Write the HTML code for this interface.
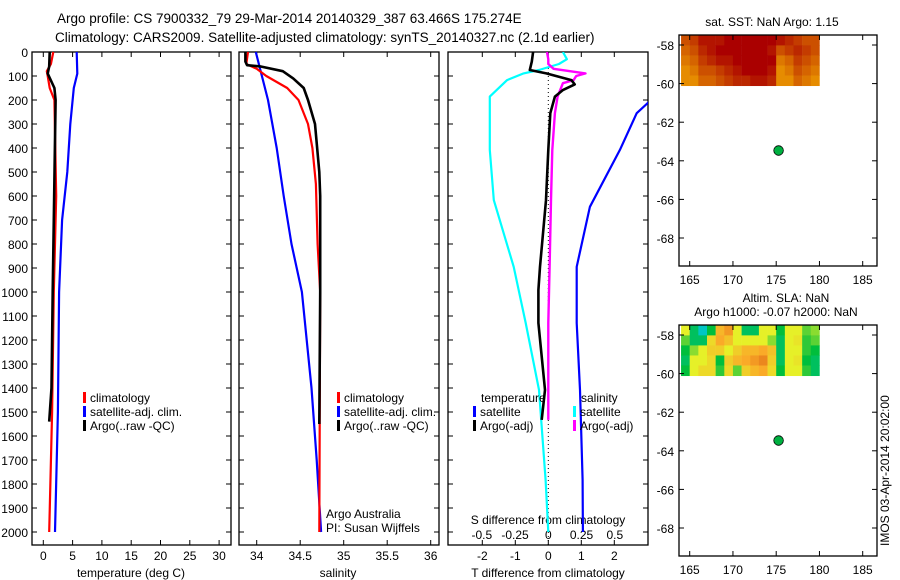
<!DOCTYPE html>
<html><head><meta charset="utf-8"><style>
html,body{margin:0;padding:0;background:#fff;}
svg{display:block;font-family:"Liberation Sans",sans-serif;}
</style></head><body>
<svg id="fig" width="900" height="580" viewBox="0 0 900 580" xmlns="http://www.w3.org/2000/svg">
<text x="57" y="23" font-size="13.5">Argo profile: CS 7900332_79 29-Mar-2014 20140329_387 63.466S 175.274E</text>
<text x="55" y="42" font-size="13.5">Climatology: CARS2009. Satellite-adjusted climatology: synTS_20140327.nc (2.1d earlier)</text>
<text x="772" y="26" font-size="12" text-anchor="middle">sat. SST: NaN Argo: 1.15</text>
<text x="786" y="302" font-size="12" text-anchor="middle">Altim. SLA: NaN</text>
<text x="776" y="316" font-size="12" text-anchor="middle">Argo h1000: -0.07 h2000: NaN</text>
<text transform="translate(889,546) rotate(-90)" font-size="12">IMOS 03-Apr-2014 20:02:00</text>
<g id="plots"></g>
</svg>
<script>
// ---- data ----
const depthTicks=[0,100,200,300,400,500,600,700,800,900,1000,1100,1200,1300,1400,1500,1600,1700,1800,1900,2000];
const tempTicks=[0,5,10,15,20,25,30];
const salTicks=[34,34.5,35,35.5,36];
const tdiffTicks=[-2,-1,0,1,2];
const sdiffTicks=[-0.5,-0.25,0,0.25,0.5];
const sdiffLabels=["-0.5","-0.25","0","0.25","0.5"];
const latTicks=[-58,-60,-62,-64,-66,-68];
const lonTicks=[165,170,175,180,185];

const tClimDepth=[0,50,80,100,150,200,600,1000,1500,2000];
const tClimVal=[1.7,1.3,0.6,0.75,1.1,1.9,2.2,1.8,1.5,1.0];
const tArgoDepth=[0,60,90,150,200,700,1000,1400,1540];
const tArgoVal=[1.1,1.0,0.75,1.9,2.1,1.8,1.6,1.4,1.0];
const tSatDepth=[0,90,150,300,500,700,1000,1500,2000];
const tSatVal=[5.7,5.8,5.2,4.6,4.1,3.2,2.7,2.5,2.0];

const sClimDepth=[0,50,70,100,150,200,300,400,550,800,1000,2000];
const sClimVal=[33.9,33.88,34.0,34.11,34.35,34.48,34.59,34.64,34.68,34.7,34.73,34.72];
const sArgoDepth=[0,40,55,60,80,110,150,200,300,500,600,1000,1550];
const sArgoVal=[33.87,33.87,33.89,34.04,34.3,34.42,34.54,34.59,34.67,34.72,34.73,34.73,34.72];
const sSatDepth=[0,100,200,400,600,800,1000,1400,1700,2000];
const sSatVal=[33.99,34.06,34.13,34.23,34.31,34.4,34.52,34.63,34.69,34.74];

const dtArgoDepth=[0,40,75,89,117,135,158,186,255,408,617,895,992,1129,1408,1533];
const dtArgoVal=[-0.46,-0.5,-0.56,-0.06,0.7,0.8,0.45,0.2,0.06,0,-0.07,-0.25,-0.3,-0.3,-0.1,-0.2];
const dtSatDepth=[150,214,255,408,645,895,1129,1408,1783,2000];
const dtSatVal=[3.5,3.0,2.68,2.17,1.26,0.86,0.86,0.96,1.04,1.05];
const dsArgoDepth=[0,30,50,70,89,100,117,130,186,255,408,617,895,1129,1533];
const dsArgoVal=[-0.01,0,0,0.04,0.28,0.21,0.19,0.11,0.07,0.05,0.03,0.02,0.01,0,0];
const dsSatDepth=[0,30,50,75,90,117,186,255,408,617,895,1129,1408,1783,2000];
const dsSatVal=[0.11,0.14,0.08,-0.07,-0.19,-0.31,-0.44,-0.44,-0.44,-0.41,-0.26,-0.17,-0.07,-0.02,0.0];

const sstGrid=[
[.6,.7,.9,.9,.9,1,1,1,1,1,1,.9,.8,.7,.6,.6],
[.5,.6,.8,.9,1,1,1,1,1,1,.9,.6,.7,.8,.7,.6],
[.4,.5,.7,.8,.9,.9,1,1,1,1,1,.4,.5,.7,.6,.5],
[.3,.4,.6,.6,.7,.8,.9,1,1,1,.9,.3,.4,.6,.5,.4],
[.3,.3,.5,.5,.6,.7,.8,.8,.9,.9,.8,.3,.3,.5,.4,.3]];
const slaGrid=[
[0,-.6,-.9,-.5,.5,.7,0,-.6,-.6,0,0,-.5,0,0,-.3,-.2],
[-.3,-.6,-.6,.2,.6,.4,0,0,0,0,-.2,-.6,0,.1,-.4,-.3],
[-.5,-.2,0,.3,.3,0,.3,.5,.5,.6,.4,-.6,0,0,-.4,-.5],
[-.6,0,0,.2,-.5,.3,.5,.6,.7,.8,.3,-.6,0,.1,-.5,-.6],
[-.5,0,.2,.2,-.4,.2,-.3,.3,.5,.6,.2,-.5,0,0,-.4,-.6]];
const gridLon0=164, gridLat0=-57.5, gridDLat=0.52;
const argoLon=175.274, argoLat=-63.466;

// ---- helpers ----
const NS="http://www.w3.org/2000/svg";
const root=document.getElementById('plots');
function el(tag,attrs,parent){const e=document.createElementNS(NS,tag);for(const k in attrs)e.setAttribute(k,attrs[k]);(parent||root).appendChild(e);return e;}
function txt(x,y,s,anchor,size,parent){const t=el('text',{x:x,y:y,'font-size':size||12,'text-anchor':anchor||'start'},parent);t.textContent=s;return t;}
const yD=d=>52+d*0.24;
const PT=52,PB=545;

function panel(x0,x1,name){
  const g=el('g',{});
  
  
  const r=el('rect',{x:x0,y:PT,width:x1-x0,height:PB-PT,fill:'none',stroke:'#000','stroke-width':1.3},g);
  
  
  depthTicks.forEach(d=>{
    el('line',{x1:x0,x2:x0+5,y1:yD(d),y2:yD(d),stroke:'#000'},g);
    el('line',{x1:x1,x2:x1-5,y1:yD(d),y2:yD(d),stroke:'#000'},g);
  });
  return g;
}
function xTicks(g,vals,fx,labels,ly){
  vals.forEach((v,i)=>{
    el('line',{x1:fx(v),x2:fx(v),y1:PB,y2:PB-5,stroke:'#000'},g);
    el('line',{x1:fx(v),x2:fx(v),y1:PT,y2:PT+5,stroke:'#000'},g);
    if(labels){const t=txt(fx(v),ly,labels[i],'middle',12,g);
      
      }
  });
}
function profile(g,depths,vals,fx,color,name,w,clip){
  let pts=[];
  for(let i=0;i<depths.length;i++){pts.push(fx(vals[i]).toFixed(1)+','+yD(depths[i]).toFixed(1));}
  const p=el('polyline',{points:pts.join(' '),fill:'none',stroke:color,'stroke-width':w||2.2,'stroke-linejoin':'round'},g);
  if(clip)p.setAttribute('clip-path',clip);
  
  
}
function legend(g,x,y,color,label){
  el('rect',{x:x,y:y-10,width:3,height:11,fill:color},g);
  const t=txt(x+7,y,label,'start',12,g);
  
  
}

// ---- panel 1: temperature ----
const fT=v=>43.3+v*5.86;
const g1=panel(32,231,'temperature-panel');
depthTicks.forEach(d=>{const t=txt(28,yD(d)+5,String(d),'end',12,g1);
  
  });
xTicks(g1,tempTicks,fT,tempTicks.map(String),560);
const t1=txt(131,577,'temperature (deg C)','middle',12,g1);


profile(g1,tSatDepth,tSatVal,fT,'#0000ff','temp-satellite-line');
profile(g1,tClimDepth,tClimVal,fT,'#ff0000','temp-climatology-line');
profile(g1,tArgoDepth,tArgoVal,fT,'#000','temp-argo-line',2.6);
legend(g1,83,402,'#ff0000','climatology');
legend(g1,83,416,'#0000ff','satellite-adj. clim.');
legend(g1,83,430,'#000','Argo(..raw -QC)');

// ---- panel 2: salinity ----
const fS=v=>256.7+(v-34)*87;
const g2=panel(239,439,'salinity-panel');
xTicks(g2,salTicks,fS,salTicks.map(String),560);
const t2=txt(338,577,'salinity','middle',12,g2);


profile(g2,sSatDepth,sSatVal,fS,'#0000ff','sal-satellite-line');
profile(g2,sClimDepth,sClimVal,fS,'#ff0000','sal-climatology-line');
profile(g2,sArgoDepth,sArgoVal,fS,'#000','sal-argo-line',2.6);
legend(g2,337,402,'#ff0000','climatology');
legend(g2,337,416,'#0000ff','satellite-adj. clim.');
legend(g2,337,430,'#000','Argo(..raw -QC)');
const a1=txt(326,518,'Argo Australia','start',12,g2);


const a2=txt(326,532,'PI: Susan Wijffels','start',12,g2);



// ---- panel 3: differences ----
const fDT=v=>548.3+v*33;
const fDS=v=>548.3+v*133;
const g3=panel(448,648,'difference-panel');
const cp=el('clipPath',{id:'c3'},g3);
el('rect',{x:448,y:PT,width:200,height:PB-PT},cp);
xTicks(g3,tdiffTicks,fDT,tdiffTicks.map(String),560);
el('line',{x1:fDT(0),x2:fDT(0),y1:PT,y2:PB,stroke:'#000','stroke-dasharray':'1,3'},g3);
sdiffTicks.forEach((v,i)=>{const t=txt(fDS(v),539,sdiffLabels[i],'middle',12,g3);
  
  });
const t3=txt(548,524,'S difference from climatology','middle',12,g3);


const t4=txt(548,577,'T difference from climatology','middle',12,g3);


profile(g3,dsSatDepth,dsSatVal,fDS,'#00ffff','sal-diff-satellite-line',2.2,'url(#c3)');
profile(g3,dtSatDepth,dtSatVal,fDT,'#0000ff','temp-diff-satellite-line',2.2,'url(#c3)');
profile(g3,dsArgoDepth,dsArgoVal,fDS,'#ff00ff','sal-diff-argo-line',2.4,'url(#c3)');
profile(g3,dtArgoDepth,dtArgoVal,fDT,'#000','temp-diff-argo-line',2.6,'url(#c3)');
const lt=txt(481,402,'temperature','start',12,g3);


const ls=txt(581,402,'salinity','start',12,g3);


legend(g3,473,416,'#0000ff','satellite');
legend(g3,473,430,'#000','Argo(-adj)');
legend(g3,573,416,'#00ffff','satellite');
legend(g3,573,430,'#ff00ff','Argo(-adj)');

// ---- maps ----
function sstColor(v){const r=Math.round(255-v*85),g=Math.round(200*(1-v)),b=0;return `rgb(${r},${g},${b})`;}
function slaColor(v){
  const stops=[[-1,[0,200,230]],[-0.5,[0,190,60]],[0,[230,240,40]],[0.6,[250,170,40]],[1,[220,100,20]]];
  for(let i=0;i<stops.length-1;i++){const a=stops[i],b=stops[i+1];
    if(v<=b[0]){const t=(v-a[0])/(b[0]-a[0]);return 'rgb('+a[1].map((c,k)=>Math.round(c+(b[1][k]-c)*t)).join(',')+')';}}
  return 'rgb(220,100,20)';
}
function map(y0,grid,colorFn,name){
  const x0=679,x1=877,y1=y0+231;
  const fLon=v=>689.7+(v-165)*8.65;
  const fLat=v=>(y0+10)+(-58-v)*19.3;
  const g=el('g',{});
  
  
  grid.forEach((row,ri)=>row.forEach((v,ci)=>{
    const c=el('rect',{x:fLon(gridLon0+ci),y:Math.max(y0,fLat(gridLat0-ri*gridDLat)),width:8.9,height:fLat(gridLat0-(ri+1)*gridDLat)-Math.max(y0,fLat(gridLat0-ri*gridDLat))+0.5,fill:colorFn(v)},g);
    
    
  }));
  el('rect',{x:x0,y:y0,width:x1-x0,height:y1-y0,fill:'none',stroke:'#000','stroke-width':1.3},g);
  latTicks.forEach(v=>{
    el('line',{x1:x0,x2:x0+5,y1:fLat(v),y2:fLat(v),stroke:'#000'},g);
    el('line',{x1:x1,x2:x1-5,y1:fLat(v),y2:fLat(v),stroke:'#000'},g);
    const t=txt(674,fLat(v)+5,String(v),'end',12,g);
    
    
  });
  lonTicks.forEach(v=>{
    el('line',{x1:fLon(v),x2:fLon(v),y1:y1,y2:y1-5,stroke:'#000'},g);
    el('line',{x1:fLon(v),x2:fLon(v),y1:y0,y2:y0+5,stroke:'#000'},g);
    const t=txt(fLon(v),y1+18,String(v),'middle',12,g);
    
    
  });
  const dot=el('circle',{cx:fLon(argoLon),cy:fLat(argoLat),r:4.8,fill:'#00b040',stroke:'#000','stroke-width':0.8},g);
  
  
}
map(35,sstGrid,sstColor,'sst-map');
map(325,slaGrid,slaColor,'sla-map');
</script>
</body></html>
